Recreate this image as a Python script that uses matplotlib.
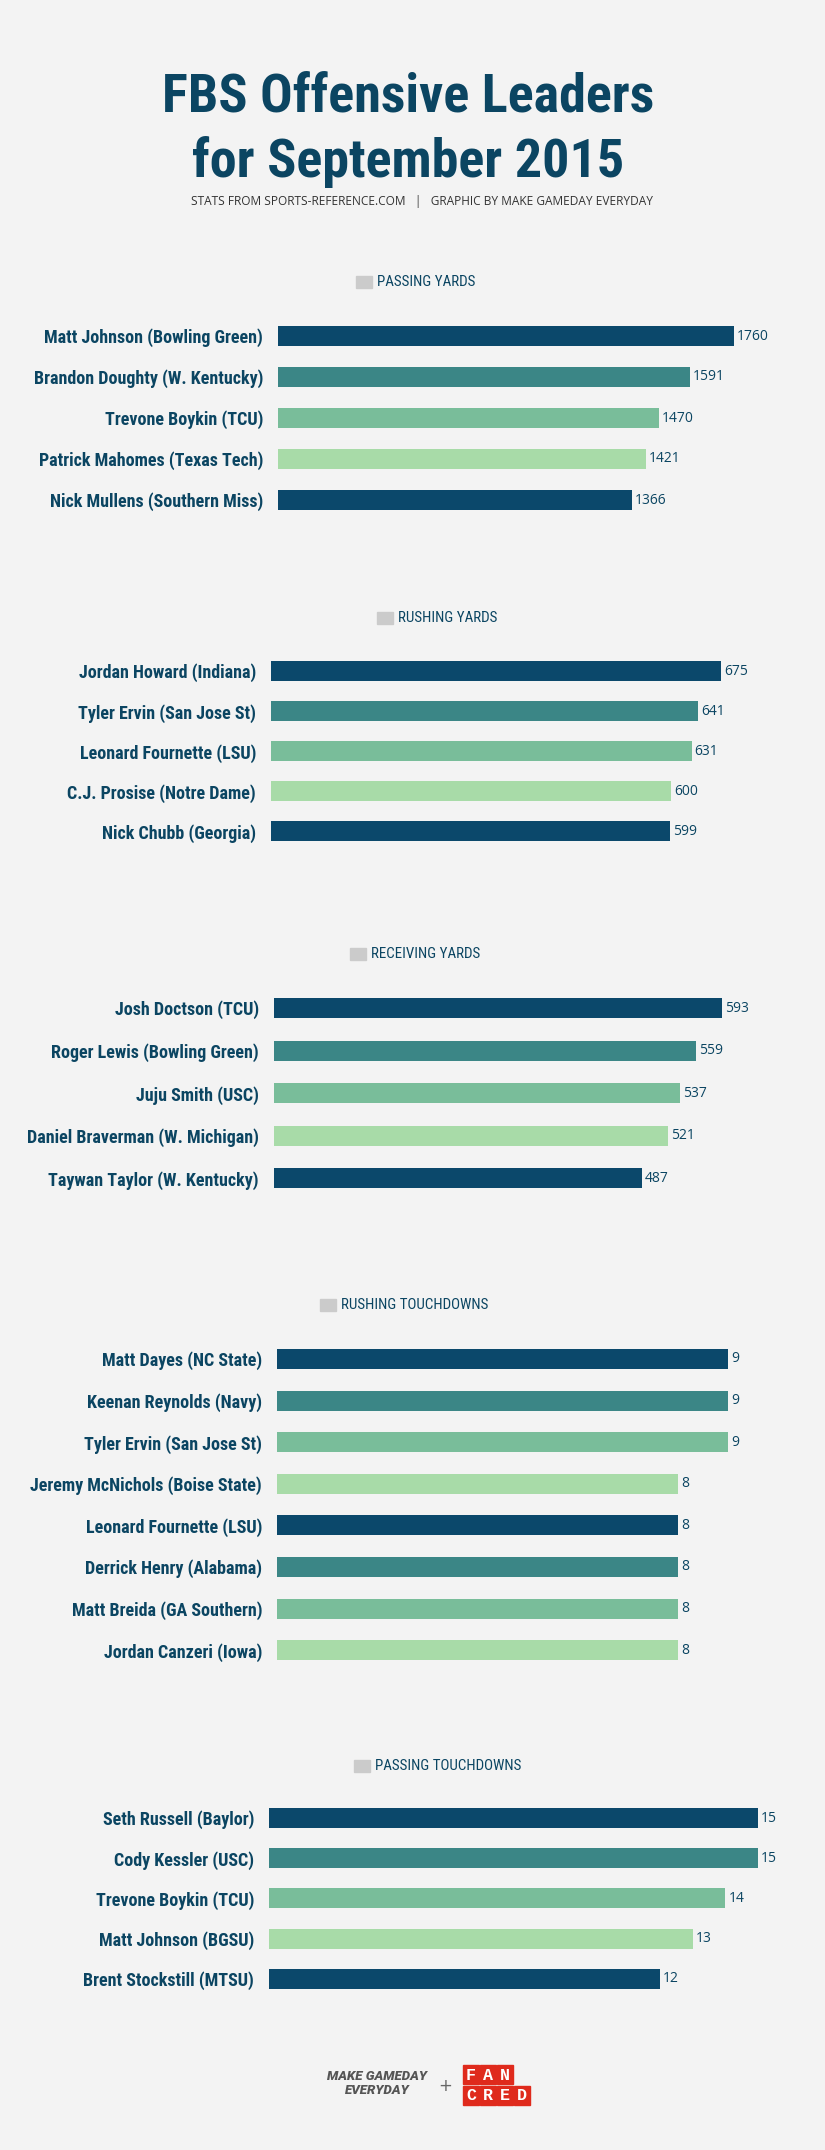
import matplotlib
matplotlib.use("Agg")
import matplotlib.pyplot as plt
from matplotlib import font_manager
from matplotlib.patches import Rectangle
from matplotlib.textpath import TextToPath

W, H, DPI = 825, 2150, 100
BG = "#F3F3F3"
NAVY = "#0B4562"
PALETTE = ["#0B486B", "#3B8686", "#79BD9A", "#A8DBA8"]

# ---- data ----
passing_yds_players = ["Matt Johnson (Bowling Green)", "Brandon Doughty (W. Kentucky)",
                       "Trevone Boykin (TCU)", "Patrick Mahomes (Texas Tech)",
                       "Nick Mullens (Southern Miss)"]
passing_yds = [1760, 1591, 1470, 1421, 1366]

rushing_yds_players = ["Jordan Howard (Indiana)", "Tyler Ervin (San Jose St)",
                       "Leonard Fournette (LSU)", "C.J. Prosise (Notre Dame)",
                       "Nick Chubb (Georgia)"]
rushing_yds = [675, 641, 631, 600, 599]

receiving_yds_players = ["Josh Doctson (TCU)", "Roger Lewis (Bowling Green)",
                         "Juju Smith (USC)", "Daniel Braverman (W. Michigan)",
                         "Taywan Taylor (W. Kentucky)"]
receiving_yds = [593, 559, 537, 521, 487]

rushing_td_players = ["Matt Dayes (NC State)", "Keenan Reynolds (Navy)",
                      "Tyler Ervin (San Jose St)", "Jeremy McNichols (Boise State)",
                      "Leonard Fournette (LSU)", "Derrick Henry (Alabama)",
                      "Matt Breida (GA Southern)", "Jordan Canzeri (Iowa)"]
rushing_td = [9, 9, 9, 8, 8, 8, 8, 8]

passing_td_players = ["Seth Russell (Baylor)", "Cody Kessler (USC)",
                      "Trevone Boykin (TCU)", "Matt Johnson (BGSU)",
                      "Brent Stockstill (MTSU)"]
passing_td = [15, 15, 14, 13, 12]

section_titles = ["PASSING YARDS", "RUSHING YARDS", "RECEIVING YARDS",
                  "RUSHING TOUCHDOWNS", "PASSING TOUCHDOWNS"]

# layout in pixels: bar zero x, longest bar end x, first bar centre y, row step, header x, header y
layout = [
    (278, 734, 336, 41.0, 356, 282),
    (271, 721, 671, 40.1, 377, 618),
    (274, 722, 1008, 42.6, 350, 954),
    (277, 728, 1359, 41.6, 320, 1305),
    (269, 758, 1818, 40.2, 354, 1766),
]


# ---- fonts ----
def pick(cands):
    for fam, weight, stretch, style in cands:
        for f in font_manager.fontManager.ttflist:
            try:
                fw = int(font_manager.weight_dict.get(f.weight, f.weight))
            except (TypeError, ValueError):
                continue
            if (f.name == fam and fw == weight and f.style == style
                    and (stretch is None or f.stretch == stretch)):
                return font_manager.FontProperties(fname=f.fname)
    return font_manager.FontProperties(family="DejaVu Sans")


bold_cond = pick([("Roboto Condensed", 700, None, "normal"),
                  ("Liberation Sans Narrow", 700, None, "normal"),
                  ("DejaVu Sans", 700, "condensed", "normal"),
                  ("Roboto", 700, "normal", "normal")])
reg_cond = pick([("Roboto Condensed", 400, None, "normal"),
                 ("Liberation Sans Narrow", 400, None, "normal"),
                 ("DejaVu Sans", 400, "condensed", "normal"),
                 ("Roboto", 400, "normal", "normal")])
open_sans = pick([("Open Sans", 400, None, "normal"), ("Lato", 400, None, "normal")])
bold_ital = pick([("Roboto", 900, None, "italic"), ("Roboto", 700, None, "italic"),
                  ("Open Sans", 700, None, "italic"), ("DejaVu Sans", 700, None, "oblique")])

t2p = TextToPath()


def sized(prop, text, target_px, max_pt):
    p = prop.copy()
    p.set_size(10)
    w = t2p.get_text_width_height_descent(text, p, ismath=False)[0]
    p.set_size(min(10 * target_px / (w * DPI / 72), max_pt))
    return p


title_prop = sized(bold_cond, "FBS Offensive Leaders", 492, 52)
sub_prop = sized(open_sans, "STATS FROM SPORTS-REFERENCE.COM   |   GRAPHIC BY MAKE GAMEDAY EVERYDAY", 460, 9.5)
head_prop = sized(reg_cond, "PASSING YARDS", 99, 11)
label_prop = sized(bold_cond, "Daniel Braverman (W. Michigan)", 232, 13)
value_prop = open_sans.copy()
value_prop.set_size(10)
foot_prop = sized(bold_ital, "MAKE GAMEDAY", 111, 9.5)
logo_prop = font_manager.FontProperties(family=["Liberation Mono", "DejaVu Sans Mono"],
                                        weight="bold", size=12)

# ---- figure ----
fig = plt.figure(figsize=(W / DPI, H / DPI), dpi=DPI, facecolor=BG)
bg = fig.add_axes([0, 0, 1, 1])
bg.set_xlim(0, W)
bg.set_ylim(H, 0)
bg.axis("off")

bg.text(408, 111, "FBS Offensive Leaders", ha="center", va="baseline",
        color=NAVY, fontproperties=title_prop)
bg.text(408, 177, "for September 2015", ha="center", va="baseline",
        color=NAVY, fontproperties=title_prop)
bg.text(422, 202, "STATS FROM SPORTS-REFERENCE.COM   |   GRAPHIC BY MAKE GAMEDAY EVERYDAY",
        ha="center", va="center", color="#333333", fontproperties=sub_prop)

sections = [
    (passing_yds_players, passing_yds),
    (rushing_yds_players, rushing_yds),
    (receiving_yds_players, receiving_yds),
    (rushing_td_players, rushing_td),
    (passing_td_players, passing_td),
]

for (players, values), title, (x0, x1, yc, step, hx, hy) in zip(sections, section_titles, layout):
    n = len(values)
    top = yc - step / 2
    ax = fig.add_axes([x0 / W, 1 - (top + n * step) / H, (x1 - x0) / W, n * step / H])
    ax.set_facecolor("none")
    colors = [PALETTE[i % len(PALETTE)] for i in range(n)]
    bars = ax.barh(range(n), values, height=20 / step, color=colors)
    ax.set_xlim(0, max(values))
    ax.set_ylim(n - 0.5, -0.5)
    ax.set_xticks([])
    ax.set_yticks(range(n), labels=players)
    ax.tick_params(axis="y", length=0, pad=15 * 72 / DPI)
    for t in ax.get_yticklabels():
        t.set_fontproperties(label_prop)
        t.set_color(NAVY)
    for s in ax.spines.values():
        s.set_visible(False)
    ax.bar_label(bars, labels=[str(v) for v in values], padding=3 * 72 / DPI,
                 color=NAVY, fontproperties=value_prop, clip_on=False)

    # legend-like header
    bg.add_patch(Rectangle((hx, hy - 6), 16, 12, color="#CBCBCB"))
    bg.text(hx + 21, hy, title, ha="left", va="center", color=NAVY, fontproperties=head_prop)

# ---- footer logos ----
bg.text(377, 2077, "MAKE GAMEDAY", ha="center", va="center", color="#555555", fontproperties=foot_prop)
bg.text(377, 2091, "EVERYDAY", ha="center", va="center", color="#555555", fontproperties=foot_prop)
bg.text(445, 2086, "+", ha="center", va="center", color="#666666", fontsize=12)
for row, (word, y) in enumerate([("FAN", 2065), ("CRED", 2086)]):
    for j, ch in enumerate(word):
        x = 463 + j * 17
        bg.add_patch(Rectangle((x, y), 16, 19, color="#DF2A1C"))
        bg.text(x + 8, y + 10, ch, ha="center", va="center", color="white", fontproperties=logo_prop)

fig.savefig("out.png", dpi=DPI, facecolor=BG)
